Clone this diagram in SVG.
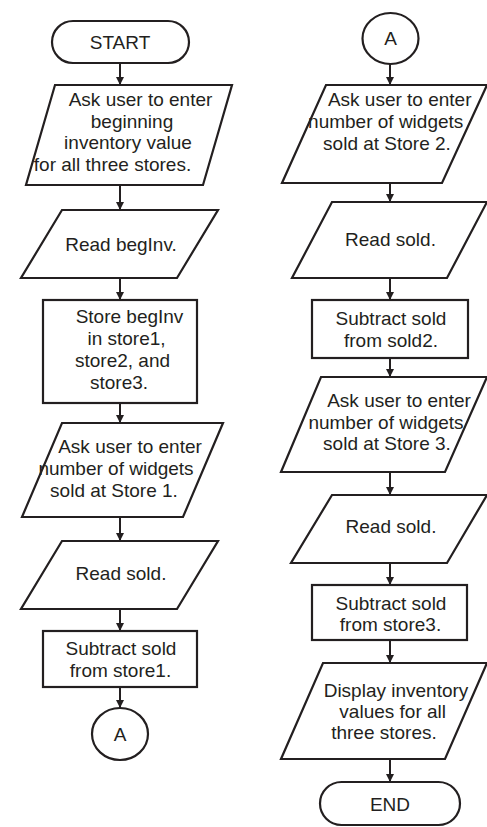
<svg xmlns="http://www.w3.org/2000/svg" width="487" height="827" viewBox="0 0 487 827">
<defs>
<marker id="ah" markerUnits="userSpaceOnUse" markerWidth="8" markerHeight="10" refX="8" refY="4" orient="auto">
<path d="M0,0 L8,4 L0,8 z" fill="#231f20"/>
</marker>
<style>
.s{fill:#fff;stroke:#231f20;stroke-width:2.2;stroke-linejoin:miter}
.t{font-family:"Liberation Sans",Arial,sans-serif;font-size:19px;fill:#231f20;text-anchor:middle}
.c line{stroke:#231f20;stroke-width:2}
</style>
</defs>
<rect width="487" height="827" fill="#fff"/>
<g class="c" id="connectors">
<line x1="120" y1="63" x2="120" y2="85" marker-end="url(#ah)"/>
<line x1="120" y1="185" x2="120" y2="210" marker-end="url(#ah)"/>
<line x1="120" y1="278" x2="120" y2="300" marker-end="url(#ah)"/>
<line x1="120" y1="403" x2="120" y2="423" marker-end="url(#ah)"/>
<line x1="120" y1="517" x2="120" y2="541" marker-end="url(#ah)"/>
<line x1="120" y1="609" x2="120" y2="631" marker-end="url(#ah)"/>
<line x1="120" y1="687" x2="120" y2="708" marker-end="url(#ah)"/>
<line x1="390" y1="64" x2="390" y2="85" marker-end="url(#ah)"/>
<line x1="390" y1="183" x2="390" y2="202" marker-end="url(#ah)"/>
<line x1="390" y1="278" x2="390" y2="300" marker-end="url(#ah)"/>
<line x1="390" y1="358" x2="390" y2="377" marker-end="url(#ah)"/>
<line x1="390" y1="472" x2="390" y2="495" marker-end="url(#ah)"/>
<line x1="390" y1="563" x2="390" y2="585" marker-end="url(#ah)"/>
<line x1="390" y1="640" x2="390" y2="663" marker-end="url(#ah)"/>
<line x1="390" y1="759" x2="390" y2="782" marker-end="url(#ah)"/>
</g>
<g id="start">
<rect class="s" x="52" y="21" width="137" height="42" rx="21"/>
<text class="t" x="120" y="49">START</text>
</g>
<g id="ask-beginning">
<polygon class="s" points="55,85 232,85 203,185 26,185"/>
<text class="t" x="140.5" y="106">Ask user to enter</text>
<text class="t" x="132" y="127.5">beginning</text>
<text class="t" x="128" y="149">inventory value</text>
<text class="t" x="112.5" y="170.5">for all three stores.</text>
</g>
<g id="read-beginv">
<polygon class="s" points="62,210 218,210 177,278 21,278"/>
<text class="t" x="121" y="251">Read begInv.</text>
</g>
<g id="store-beginv">
<rect class="s" x="43" y="300" width="154" height="103"/>
<text class="t" x="129.5" y="323">Store begInv</text>
<text class="t" x="126.5" y="345">in store1,</text>
<text class="t" x="122.5" y="367">store2, and</text>
<text class="t" x="119" y="389">store3.</text>
</g>
<g id="ask-store1">
<polygon class="s" points="62,423 223,423 183,517 22,517"/>
<text class="t" x="130" y="453">Ask user to enter</text>
<text class="t" x="116" y="475">number of widgets</text>
<text class="t" x="114" y="497">sold at Store 1.</text>
</g>
<g id="read-sold-1">
<polygon class="s" points="62,541 218,541 177,609 21,609"/>
<text class="t" x="121" y="580">Read sold.</text>
</g>
<g id="subtract-1">
<rect class="s" x="43" y="631" width="154" height="56"/>
<text class="t" x="121" y="655">Subtract sold</text>
<text class="t" x="120.5" y="677">from store1.</text>
</g>
<g id="connector-a-out">
<ellipse class="s" cx="120" cy="734" rx="28" ry="26"/>
<text class="t" x="120" y="741">A</text>
</g>
<g id="connector-a-in">
<ellipse class="s" cx="390.5" cy="38.5" rx="28" ry="25.5"/>
<text class="t" x="390.5" y="45">A</text>
</g>
<g id="ask-store2">
<polygon class="s" points="326,85 487,85 442,183 282,183"/>
<text class="t" x="399.7" y="106">Ask user to enter</text>
<text class="t" x="385.7" y="128">number of widgets</text>
<text class="t" x="387" y="150">sold at Store 2.</text>
</g>
<g id="read-sold-2">
<polygon class="s" points="332,202 487,202 447,278 292,278"/>
<text class="t" x="390.5" y="246">Read sold.</text>
</g>
<g id="subtract-2">
<rect class="s" x="312" y="300" width="156" height="58"/>
<text class="t" x="391" y="325">Subtract sold</text>
<text class="t" x="391" y="347">from sold2.</text>
</g>
<g id="ask-store3">
<polygon class="s" points="321,377 487,377 445,472 281,472"/>
<text class="t" x="399" y="407">Ask user to enter</text>
<text class="t" x="386" y="428.5">number of widgets</text>
<text class="t" x="387" y="450">sold at Store 3.</text>
</g>
<g id="read-sold-3">
<polygon class="s" points="332,495 487,495 447,563 291,563"/>
<text class="t" x="391" y="533">Read sold.</text>
</g>
<g id="subtract-3">
<rect class="s" x="312" y="585" width="155" height="55"/>
<text class="t" x="391" y="610">Subtract sold</text>
<text class="t" x="390.5" y="631">from store3.</text>
</g>
<g id="display">
<polygon class="s" points="323,663 487,663 445,759 281,759"/>
<text class="t" x="396" y="697">Display inventory</text>
<text class="t" x="392.7" y="718">values for all</text>
<text class="t" x="384" y="739">three stores.</text>
</g>
<g id="end">
<rect class="s" x="320" y="782" width="140" height="43" rx="21.5"/>
<text class="t" x="390" y="811">END</text>
</g>
</svg>
